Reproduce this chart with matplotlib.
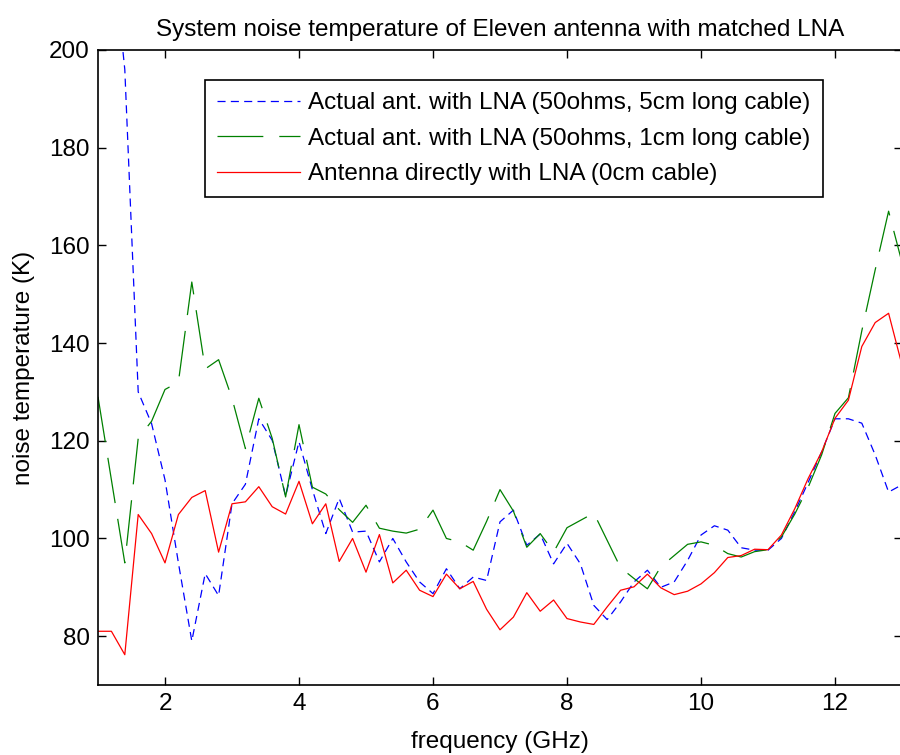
import numpy as np
import matplotlib
matplotlib.use("Agg")
import matplotlib.pyplot as plt

freq = np.round(np.arange(1.0, 13.0001, 0.2), 1)

cable_5cm = [260, 223, 196, 130, 123.5, 112, 95, 79, 92.8, 88.3,
             107.1, 111.1, 124.5, 120.1, 108.7, 119.8, 110, 101, 108.2, 101.3,
             101.5, 95.2, 100.0, 95.2, 91.1, 88.7, 93.8, 89.7, 92.1, 91.4,
             103.4, 105.8, 98.6, 100.9, 94.8, 99.0, 94.8, 86.3, 83.4, 87.0,
             91.1, 93.5, 90.0, 91.1, 95.5, 100.7, 102.6, 101.7, 98.1, 97.6,
             97.6, 100.0, 105.5, 111.5, 117.7, 124.5, 124.5, 123.6, 117.1, 109.5,
             111]

cable_1cm = [129, 112, 95, 120.5, 124, 130.5, 132, 152.5, 134.7, 136.6,
             128.7, 118.4, 128.7, 120.5, 108.5, 123.3, 110.5, 109.1, 105.9, 103.3,
             106.8, 102.1, 101.5, 101.1, 101.9, 105.8, 100.0, 99.3, 97.6, 103.5,
             110, 105.6, 98.2, 101.0, 97.2, 102.2, 103.7, 105.2, 99.6, 94.0,
             91.8, 89.7, 94.2, 96.5, 98.8, 99.3, 98.6, 96.9, 96.2, 97.3,
             97.7, 100.3, 105, 110.5, 117.1, 125.6, 128.8, 142.5, 155, 167,
             156.5]

direct = [81.0, 81.0, 76.2, 104.9, 101.0, 95.0, 104.9, 108.4, 109.8, 97.2,
          107.1, 107.5, 110.6, 106.5, 105.0, 111.7, 103.0, 107.1, 95.3, 100.0,
          93.1, 100.8, 90.9, 93.5, 89.4, 88.1, 92.7, 89.7, 91.2, 85.5,
          81.3, 83.9, 88.9, 85.1, 87.4, 83.6, 82.9, 82.4, 86.0, 89.4,
          90.1, 92.7, 89.9, 88.5, 89.2, 90.7, 93.0, 96.1, 96.5, 97.8,
          97.7, 100.7, 106.1, 112.3, 117.7, 124.6, 128.3, 139.3, 144.2, 146.1,
          135.5]

labels = ["Actual ant. with LNA (50ohms, 5cm long cable)",
          "Actual ant. with LNA (50ohms, 1cm long cable)",
          "Antenna directly with LNA (0cm cable)"]

plt.rcParams['font.family'] = ['Liberation Sans', 'DejaVu Sans']
plt.rcParams['lines.scale_dashes'] = False
FS = 17.5

fig = plt.figure(figsize=(9, 7.55), dpi=100)
ax = fig.add_axes([98/900, 1 - 685/755, 804/900, 635/755])

ax.plot(freq, cable_5cm, color='#0000ff', lw=0.9, dashes=(5.8, 3.8), label=labels[0])
ax.plot(freq, cable_1cm, color='#008000', lw=0.9, dashes=(33, 11.5), label=labels[1])
ax.plot(freq, direct, color='#ff0000', lw=0.9, label=labels[2])

ax.set_xlim(1, 13)
ax.set_ylim(70, 200)
ax.set_xticks([2, 4, 6, 8, 10, 12])
ax.set_yticks([80, 100, 120, 140, 160, 180, 200])
ax.tick_params(direction='in', length=6, width=1, top=True, right=True,
               labelsize=FS, pad=6)
for s in ax.spines.values():
    s.set_linewidth(1.2)

ax.set_xlabel("frequency (GHz)", fontsize=FS, labelpad=11)
ax.set_ylabel("noise temperature (K)", fontsize=FS, labelpad=10)
ax.set_title("System noise temperature of Eleven antenna with matched LNA",
             fontsize=FS, pad=10)

leg = ax.legend(loc='upper left', bbox_to_anchor=(0.133, 0.953), fontsize=FS,
                handlelength=3.4, fancybox=False, framealpha=1, edgecolor='black',
                borderpad=0.5, labelspacing=0.56, handletextpad=0.35,
                borderaxespad=0)
leg.get_frame().set_linewidth(1.2)

fig.savefig("out.png", dpi=100)
